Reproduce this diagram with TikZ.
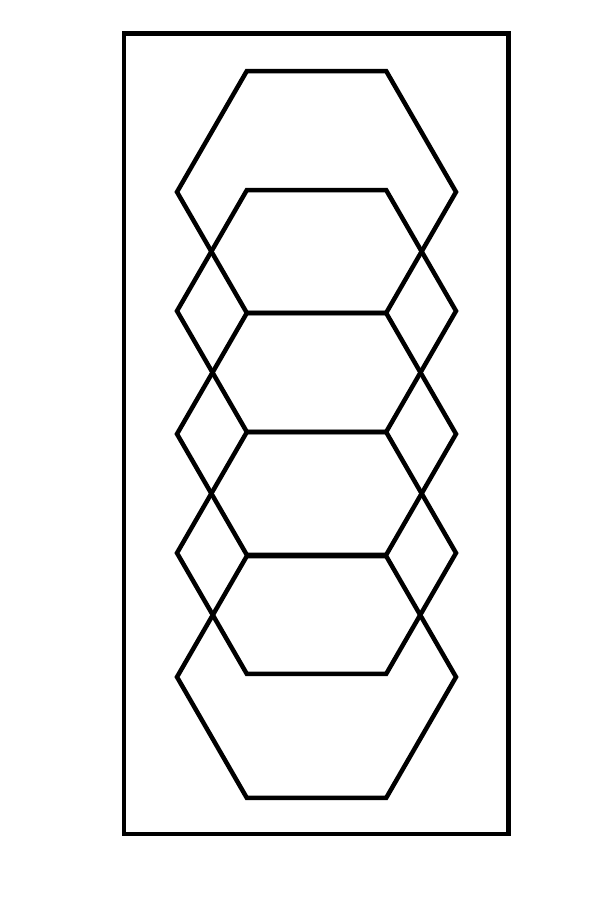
\documentclass[tikz,border=0pt]{standalone}
\usepackage{tikz}

\begin{document}
\begin{tikzpicture}[
    x=0.025cm, y=0.025cm,
    frame/.style={draw=black, line width=3.2pt},
    hexline/.style={draw=black, line width=3.2pt, line join=miter}
]

\useasboundingbox (0,0) rectangle (603,912);

% Outer frame
\draw [frame] (124,78) rectangle (508.5,878.5);

% Stacked hexagons
\foreach \cy in {720,601,478,359,235} {
    \draw [hexline] (316.5+139.5,\cy) -- ++(120:139.5) -- ++(180:139.5) -- ++(240:139.5)
        -- ++(300:139.5) -- ++(0:139.5) -- cycle;
}

\end{tikzpicture}
\end{document}
